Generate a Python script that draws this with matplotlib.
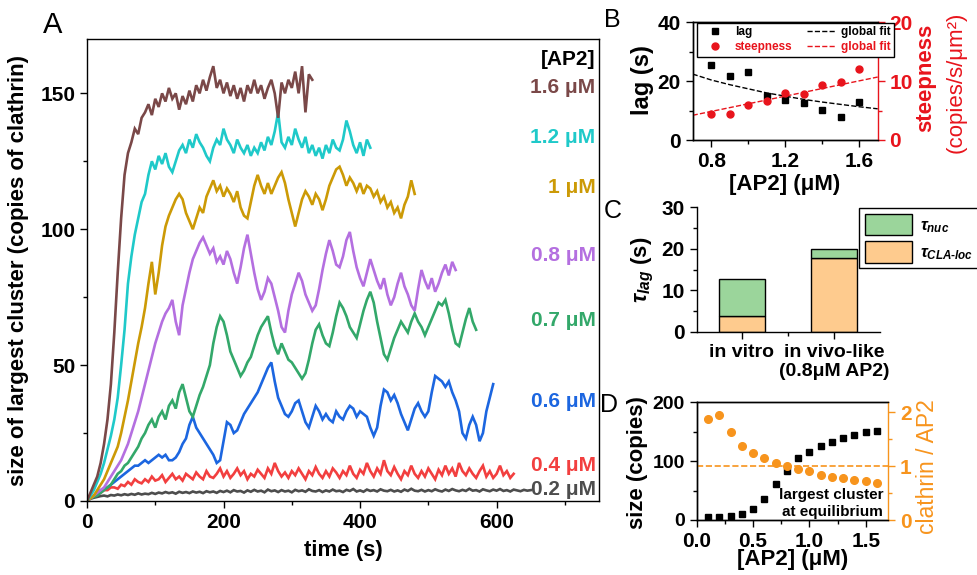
import numpy as np
import matplotlib
matplotlib.use('Agg')
import matplotlib.pyplot as plt
from matplotlib.lines import Line2D
from matplotlib.patches import Patch
from matplotlib.ticker import MultipleLocator, FixedLocator

plt.rcParams.update({
    'font.family': ['Liberation Sans', 'DejaVu Sans'],
    'font.weight': 'bold',
    'axes.labelweight': 'bold',
    'mathtext.fontset': 'custom',
    'mathtext.rm': 'Liberation Sans',
    'mathtext.it': 'Liberation Sans:italic',
    'mathtext.bf': 'Liberation Sans:bold',
    'mathtext.bfit': 'Liberation Sans:bold:italic',
    'axes.linewidth': 1.0,
    'xtick.direction': 'out', 'ytick.direction': 'out',
    'xtick.major.size': 5, 'ytick.major.size': 5,
    'xtick.minor.size': 3, 'ytick.minor.size': 3,
    'xtick.major.width': 1, 'ytick.major.width': 1,
    'xtick.minor.width': 1, 'ytick.minor.width': 1,
})

# ---------------- Panel A data (sampled every 5 s) ----------------
DT = 5
conc_A = ['0.2', '0.4', '0.6', '0.7', '0.8', '1', '1.2', '1.6']
trace_02 = [0,0.8,1.2,1.5,1.8,2.0,1.7,2.2,2.0,2.4,
            2.1,2.5,2.2,2.6,2.3,2.8,2.4,2.7,2.5,3.0,
            2.6,3.1,2.8,3.3,2.9,3.2,2.7,3.4,3.0,3.3,
            2.9,3.5,3.1,3.4,2.9,3.6,3.2,3.5,3.0,3.7,
            3.3,3.8,3.2,4.0,3.5,3.7,3.1,3.9,3.4,4.1,
            3.5,3.8,3.2,4.2,3.6,3.9,3.3,4.0,3.5,3.8,
            3.2,4.1,3.6,3.9,3.4,4.3,3.7,3.5,4.0,3.3,
            3.9,3.5,4.2,3.6,3.8,3.3,4.1,3.7,4.4,3.5,
            3.9,3.4,4.2,3.7,4.0,3.5,4.3,3.8,3.6,4.1,
            3.5,3.9,3.4,4.2,3.7,4.5,3.8,3.6,4.1,3.5,
            4.0,3.6,4.3,3.8,3.5,4.2,3.7,4.4,3.9,3.6,
            4.1,3.7,4.5,3.8,4.0,3.5,4.3,3.9,3.6,4.2,
            3.8,4.4,3.7,4.0,3.5,4.2,3.9,3.6,4.1,3.8,
            4.0]
trace_04 = [0,1,2,2.5,3,4,4,5,5,4.5,
            6,5.5,7,6,8,7,6.5,8,7,9,
            7.5,8,9.5,7,8.5,10,8,9,7.5,10,
            9,8,10.5,9,8,11,9,8.5,10,12,
            9,11,8.5,10,12,9.5,11,8,10,9,
            11.5,10,8.5,12,10,14,11,9,10.5,8.5,
            11,9.5,12,10,8,11,9.5,12.5,10,8.5,
            11,9,12,10.5,8.5,11,9.5,13,10,8.5,
            11.5,10,14,11,9,12,10,15,11,9.5,
            12.5,10,8,11,9.5,13,10,8.5,11,9,
            12,10,8,11.5,9.5,13,10,12,9,14,
            11,9.5,12,10,8.5,11,13,9,11,8.5,
            10,13,9.5,11,8.5,10]
trace_06 = [0,1,2,3,4,4.5,5,6,7,8,
            9,10,11,12,13,13,14,15,14,15,
            16,17,16,17,15,15,16,18,21,23,
            28,31,27,25,23,21,19,17,14,15,
            22,29,28,25,26,29,32,34,36,38,
            40,43,46,49,51,44,38,35,32,31,
            33,36,37,33,29,27,31,35,33,30,
            32,30,29,33,31,30,33,35,34,31,
            33,32,31,27,24,27,35,41,40,37,
            39,36,32,29,26,30,34,36,33,31,
            33,40,46,45,44,42,44,40,37,33,
            25,23,28,31,28,22,25,33,38,43]
trace_07 = [0,1,1.5,2,3,4,5,6,8,10,
            11,13,14,16,18,20,23,25,28,30,
            27,31,33,30,35,37,34,40,43,38,
            33,31,35,39,42,46,50,58,64,68,
            66,61,55,52,49,46,48,51,53,57,
            61,64,66,68,62,57,54,58,55,52,
            51,49,47,45,47,52,58,63,65,61,
            58,57,62,68,73,71,68,64,62,60,
            65,70,74,77,73,66,60,54,52,56,
            60,63,66,64,62,66,69,66,64,61,
            64,67,70,73,72,74,69,63,58,57,
            62,67,71,66,63]
trace_08 = [0,1,2,3,4,5,7,9,11,13,
            15,18,21,25,29,33,38,43,48,53,
            58,62,66,69,71,74,66,61,72,78,
            84,89,92,95,97,94,91,93,88,90,
            87,92,89,84,80,86,93,98,91,84,
            78,74,77,82,80,75,70,64,62,70,
            76,80,84,81,76,73,70,72,78,85,
            91,96,92,87,86,90,96,99,92,86,
            82,79,84,89,85,81,78,82,76,72,
            75,80,84,79,76,72,70,78,85,81,
            78,82,77,80,84,87,83,88,85]
trace_10 = [0,1,2,4,6,8,11,14,17,20,
            25,31,37,44,51,58,64,71,80,88,
            76,84,94,101,105,108,111,113,111,106,
            103,100,104,108,106,112,115,118,114,116,
            112,115,113,110,114,108,105,104,110,116,
            120,116,113,117,113,116,119,121,117,111,
            106,101,106,111,114,112,109,113,111,107,
            111,116,119,122,123,120,116,119,117,114,
            117,113,116,115,112,114,110,112,108,110,
            106,108,104,109,112,118,113]
trace_12 = [0,2,4,7,10,14,19,24,30,38,
            50,63,80,90,98,104,110,113,120,125,
            122,127,124,128,123,121,125,129,131,128,
            133,130,135,132,130,127,125,130,133,131,
            137,133,131,128,133,130,128,131,127,130,
            128,132,129,134,131,136,143,132,130,134,
            131,137,133,130,134,128,131,127,130,126,
            131,128,133,130,129,133,140,136,131,128,
            132,127,133,130]
trace_16 = [0,3,6,9,14,21,30,43,62,84,
            104,120,128,132,137,135,141,143,146,142,
            148,145,150,147,152,148,150,144,149,146,
            151,147,153,150,155,151,156,160,152,155,
            150,154,149,153,148,152,147,153,150,155,
            150,153,148,152,155,150,141,154,150,155,
            152,158,150,160,143,157,155]
traces_A = [trace_02, trace_04, trace_06, trace_07, trace_08, trace_10, trace_12, trace_16]
colors_A = ['#4D4D4D', '#F23F3F', '#1C66E0', '#33A86A', '#B46FE0', '#CC9A06', '#1FC9C9', '#7A4848']
label_y_A = [4.3, 12.9, 36.5, 66.5, 90.4, 115.3, 133.7, 152.1]

# ---------------- Panel B data ----------------
ap2_B = [0.8, 0.9, 1.0, 1.1, 1.2, 1.3, 1.4, 1.5, 1.6]
lag_B = [25.4, 21.9, 23.0, 14.8, 13.6, 12.7, 10.2, 7.7, 12.8]
steep_B = [4.5, 4.5, 6.0, 6.6, 8.0, 7.8, 9.3, 9.8, 12.0]
lagfit_x = [0.7, 0.8, 0.9, 1.0, 1.1, 1.2, 1.3, 1.4, 1.5, 1.6, 1.7]
lagfit_y = [22.4, 20.4, 18.8, 17.4, 16.0, 14.9, 13.8, 12.9, 12.1, 11.3, 10.6]
steepfit_x = [0.7, 1.7]
steepfit_y = [4.2, 10.7]

# ---------------- Panel C data ----------------
cond_C = ['in vitro', 'in vivo-like\n(0.8\u03bcM AP2)']
tau_cla = [3.8, 17.8]
tau_nuc = [8.8, 2.2]

# ---------------- Panel D data ----------------
ap2_D = [0.1, 0.2, 0.3, 0.4, 0.5, 0.6, 0.7, 0.8, 0.9, 1.0, 1.1, 1.2, 1.3, 1.4, 1.5, 1.6]
size_D = [4.5, 5, 7, 11, 19, 36, 62, 83, 106, 115, 126, 132, 139, 144, 149, 152]
ratio_D = [1.87, 1.94, 1.63, 1.37, 1.25, 1.14, 1.06, 1.0, 0.95, 0.90, 0.84, 0.80, 0.78, 0.74, 0.72, 0.69]

RED = '#E8141C'
ORANGE = '#F7941D'

W, H = 977, 575
fig = plt.figure(figsize=(W / 100, H / 100), dpi=100)

def fx(px):
    return px / W

def fy(py):
    return 1 - py / H

# ================= Panel A =================
axA = fig.add_axes([fx(87), fy(501), fx(599) - fx(87), fy(39) - fy(501)])
for vals, col in zip(traces_A, colors_A):
    t = DT * np.arange(len(vals))
    axA.plot(t, vals, color=col, lw=1.9, solid_joinstyle='miter')
axA.set_xlim(0, 750)
axA.set_ylim(0, 170)
axA.xaxis.set_major_locator(MultipleLocator(200))
axA.xaxis.set_minor_locator(MultipleLocator(100))
axA.yaxis.set_major_locator(MultipleLocator(50))
axA.yaxis.set_minor_locator(MultipleLocator(25))
axA.tick_params(which='both', labelsize=15, top=False, right=False)
axA.set_xlabel('time (s)', fontsize=16, labelpad=6)
axA.set_ylabel('size of largest cluster (copies of clathrin)', fontsize=16, labelpad=8)
axA.text(745, 162.5, '[AP2]', ha='right', va='center', fontsize=15, color='black')
for c, yv, col in zip(conc_A, label_y_A, colors_A):
    axA.text(745, yv, f'{c} \u03bcM', ha='right', va='center', fontsize=15, color=col)

# ================= Panel B =================
axB = fig.add_axes([fx(692.7), fy(140), fx(877.7) - fx(692.7), fy(22.3) - fy(140)])
axB2 = axB.twinx()
axB.plot(lagfit_x, lagfit_y, '--', color='black', lw=1.0)
axB.plot(ap2_B, lag_B, 's', color='black', ms=4.5)
axB2.plot(steepfit_x, steepfit_y, '--', color=RED, lw=1.0)
axB2.plot(ap2_B, steep_B, 'o', color=RED, ms=5)
axB.set_xlim(0.7, 1.7)
axB.set_ylim(0, 40)
axB2.set_ylim(0, 20)
axB.xaxis.set_major_locator(FixedLocator([0.8, 1.2, 1.6]))
axB.xaxis.set_minor_locator(FixedLocator([1.0, 1.4]))
axB.yaxis.set_major_locator(MultipleLocator(20))
axB.yaxis.set_minor_locator(MultipleLocator(10))
axB2.yaxis.set_major_locator(MultipleLocator(10))
axB2.yaxis.set_minor_locator(MultipleLocator(5))
axB.tick_params(which='both', labelsize=15, top=False, right=False)
axB2.tick_params(which='both', labelsize=15, colors=RED)
axB2.spines['right'].set_color(RED)
axB.spines['right'].set_visible(False)
axB.set_xticklabels(['0.8', '1.2', '1.6'])
hB = [Line2D([], [], marker='s', color='black', ls='none', ms=4.5),
      Line2D([], [], marker='o', color=RED, ls='none', ms=5),
      Line2D([], [], ls='--', color='black', lw=1.0),
      Line2D([], [], ls='--', color=RED, lw=1.0)]
legB = axB2.legend(hB, ['lag', 'steepness', 'global fit', 'global fit'],
                   labelcolor=['black', RED, 'black', RED], ncol=2,
                   loc='upper left', bbox_to_anchor=(0.025, 0.998), fontsize=8.5,
                   frameon=True, fancybox=False, edgecolor='black', framealpha=1,
                   borderpad=0.3, handlelength=2.4, columnspacing=1.2,
                   handletextpad=0.5, labelspacing=0.25, borderaxespad=0)
legB.get_frame().set_linewidth(1.0)
fig.text(fx(642), fy(80), 'lag (s)', rotation=90, ha='center', va='center', fontsize=17)
fig.text(fx(926), fy(78), 'steepness', rotation=90, ha='center', va='center', fontsize=16, color=RED)
fig.text(fx(956), fy(82), '(copies/s/\u03bcm\u00b2)', rotation=90, ha='center', va='center',
         fontsize=16, color=RED, fontweight='normal')
fig.text(fx(785), fy(185), '[AP2] (\u03bcM)', ha='center', va='center', fontsize=16)

# ================= Panel C =================
axC = fig.add_axes([fx(696.7), fy(331.7), fx(880) - fx(696.7), fy(207.3) - fy(331.7)])
xC = np.arange(len(cond_C))
GREEN_C = '#9BD59B'
ORANGE_C = '#FECB8E'
axC.bar(xC, tau_cla, width=0.5, color=ORANGE_C, edgecolor='black', lw=1.0)
axC.bar(xC, tau_nuc, width=0.5, bottom=tau_cla, color=GREEN_C, edgecolor='black', lw=1.0)
axC.set_xlim(-0.49, 1.5)
axC.set_ylim(0, 30)
axC.spines['top'].set_visible(False)
axC.spines['right'].set_visible(False)
axC.set_xticks(xC)
axC.set_xticklabels(cond_C, fontsize=14)
axC.xaxis.set_minor_locator(FixedLocator([0.5]))
axC.yaxis.set_major_locator(MultipleLocator(10))
axC.yaxis.set_minor_locator(MultipleLocator(5))
axC.tick_params(axis='y', which='both', labelsize=15)
hC = [Patch(facecolor=GREEN_C, edgecolor='black', lw=1.0),
      Patch(facecolor=ORANGE_C, edgecolor='black', lw=1.0)]
legC = fig.legend(hC, [r'$\tau_{\mathbfit{nuc}}$', r'$\tau_{\mathbfit{CLA}\text{-}\mathbfit{loc}}$'],
                  loc='upper left', bbox_to_anchor=(fx(859), fy(208)), bbox_transform=fig.transFigure,
                  fontsize=12, frameon=True, fancybox=False, edgecolor='black', framealpha=1,
                  handlelength=2.8, handleheight=1.6, borderpad=0.35, labelspacing=0.35,
                  handletextpad=0.5, borderaxespad=0)
legC.get_frame().set_linewidth(1.0)
fig.text(fx(643), fy(270), r'$\tau_{lag}$ (s)', rotation=90, ha='center', va='center', fontsize=16)

# ================= Panel D =================
axD = fig.add_axes([fx(696.7), fy(520), fx(888.3) - fx(696.7), fy(402.3) - fy(520)])
axD2 = axD.twinx()
axD2.axhline(1.0, ls='--', color=ORANGE, lw=1.2)
axD.plot(ap2_D, size_D, 's', color='black', ms=4.5)
axD2.plot(ap2_D, ratio_D, 'o', color=ORANGE, ms=5.5)
axD.set_xlim(0, 1.7)
axD.set_ylim(0, 200)
axD2.set_ylim(0, 2.18)
axD.xaxis.set_major_locator(FixedLocator([0.0, 0.5, 1.0, 1.5]))
axD.xaxis.set_minor_locator(MultipleLocator(0.25))
axD.yaxis.set_major_locator(MultipleLocator(100))
axD.yaxis.set_minor_locator(MultipleLocator(50))
axD2.yaxis.set_major_locator(MultipleLocator(1))
axD2.yaxis.set_minor_locator(MultipleLocator(0.5))
axD.tick_params(which='both', labelsize=15, top=False, right=False)
axD.tick_params(axis='y', labelsize=14)
axD2.tick_params(which='both', labelsize=15, colors=ORANGE)
axD2.spines['right'].set_color(ORANGE)
axD.spines['right'].set_visible(False)
axD.set_xticklabels(['0.0', '0.5', '1.0', '1.5'])
axD.text(1.655, 28, 'largest cluster\nat equilibrium', ha='right', va='center',
         fontsize=11, linespacing=1.3)
fig.text(fx(638), fy(463), 'size (copies)', rotation=90, ha='center', va='center', fontsize=16)
fig.text(fx(927), fy(467), 'clathrin / AP2', rotation=90, ha='center', va='center',
         fontsize=16.5, color=ORANGE, fontweight='normal')
fig.text(fx(793), fy(560), '[AP2] (\u03bcM)', ha='center', va='center', fontsize=16)

# Panel letters
fig.text(fx(43), fy(33), 'A', fontsize=21, fontweight='normal', ha='left', va='baseline')
fig.text(fx(604), fy(27), 'B', fontsize=18, fontweight='normal', ha='left', va='baseline')
fig.text(fx(604), fy(218), 'C', fontsize=18, fontweight='normal', ha='left', va='baseline')
fig.text(fx(600), fy(412), 'D', fontsize=18, fontweight='normal', ha='left', va='baseline')

fig.savefig('out.png', dpi=100)
